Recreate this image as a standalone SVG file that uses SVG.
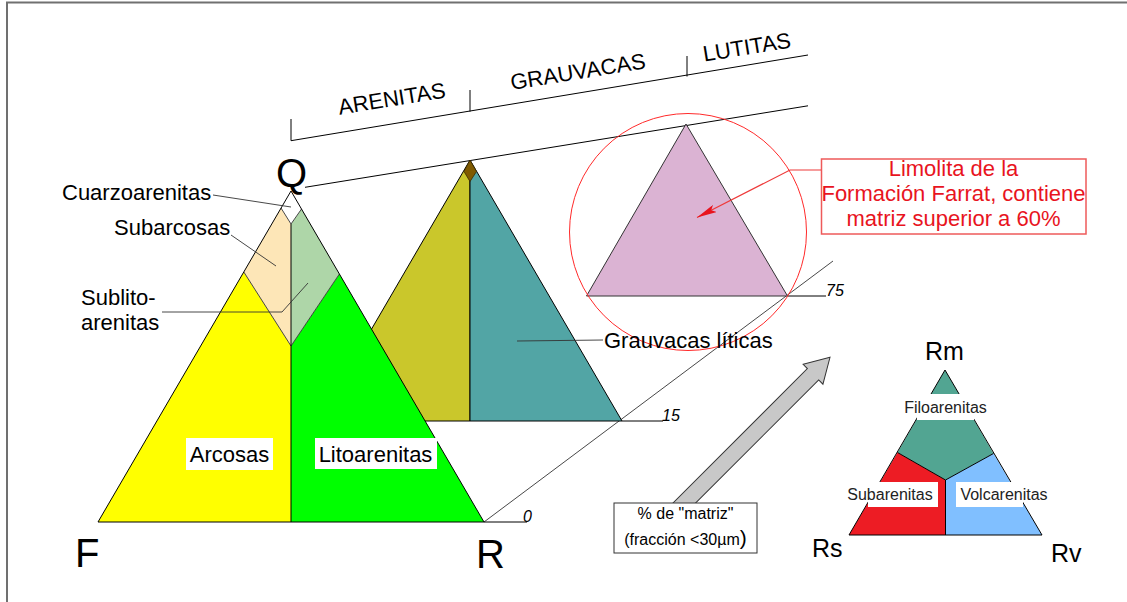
<svg xmlns="http://www.w3.org/2000/svg" width="1127" height="602" viewBox="0 0 1127 602">
<style>
  text { font-family: "Liberation Sans", Arial, sans-serif; fill: #000; }
  .big { font-size: 40px; }
  .lab { font-size: 22px; }
  .sm { font-size: 16px; fill: #222; }
  .num { font-size: 16px; font-style: italic; }
  .red { font-size: 22px; fill: #E8141E; text-anchor: middle; }
  .ln { stroke: #000; stroke-width: 1; fill: none; }
  .thin { stroke: #333; stroke-width: 0.9; fill: none; }
  .edge { stroke: #000; stroke-width: 1; stroke-linejoin: round; }
  .mid { text-anchor: middle; }
  .wbox { fill: #fff; stroke: none; }
</style>
<defs>
  <marker id="redArrow" viewBox="0 0 20 8" refX="20" refY="4" markerWidth="20" markerHeight="8" markerUnits="userSpaceOnUse" orient="auto">
    <path d="M0,0 L20,4 L0,8 L4,4 Z" fill="#E8141E"/>
  </marker>
</defs>
<rect width="1127" height="602" fill="#fff"/>
<path d="M7,602 L7,2.5 L1127,2.5" fill="none" stroke="#707070" stroke-width="2"/>

<g id="connectors">
  <!-- upper bracket line -->
  <path class="ln" d="M291,119 L291,140.7 L808,55"/>
  <line class="ln" x1="470" y1="111.6" x2="470" y2="90"/>
  <line class="ln" x1="687" y1="76.5" x2="687" y2="56"/>
  <!-- lower slanted line -->
  <line class="ln" x1="305" y1="187.3" x2="808" y2="105.8"/>
  <!-- diagonal through base corners -->
  <line class="thin" x1="484" y1="522" x2="833" y2="261"/>
  <!-- base extensions -->
  <line class="ln" x1="484" y1="522" x2="527" y2="522"/>
  <line class="ln" x1="622" y1="421" x2="663" y2="421"/>
  <line class="ln" x1="787.5" y1="296" x2="826" y2="296"/>
</g>

<g id="node-grauvacas">
  <polygon points="470,160 318,421 470,421" fill="#CAC72B" class="edge"/>
  <polygon points="470,160 622,421 470,421" fill="#52A5A5" class="edge"/>
  <polygon points="470,160 464,171.5 470,181.5 476.5,171.5" fill="#7F5A00" stroke="#3a2a00" stroke-width="0.8"/>
</g>

<g id="node-main">
  <polygon points="243.8,272 98,522 291,522 291,346" fill="#FFFF00"/>
  <polygon points="339.4,274 484,522 291,522 291,346" fill="#00FF00"/>
  <polygon points="281,208 243.8,272 291,346 291,224" fill="#FDE6B7"/>
  <polygon points="301.5,209 339.4,274 291,346 291,224" fill="#AED6A8"/>
  <polygon points="291,191 281,208 291,224 301.5,209" fill="#fff"/>
  <path class="thin" d="M281,208 L291,224 L301.5,209 M243.8,272 L291,346 L339.4,274"/>
  <line class="ln" x1="291" y1="224" x2="291" y2="522"/>
  <polygon points="291,191 98,522 484,522" fill="none" class="edge"/>
  <rect class="wbox" x="186" y="438" width="87" height="32"/>
  <rect class="wbox" x="315" y="438" width="122" height="31"/>
  <text class="lab mid" x="229.5" y="462">Arcosas</text>
  <text class="lab mid" x="375.5" y="462">Litoarenitas</text>
</g>

<g id="node-purple">
  <polygon points="686,124 586.5,296 787.5,296" fill="#DBB3D3" stroke="#333" stroke-width="1"/>
  <circle cx="688" cy="232" r="118.5" fill="none" stroke="#FF2A2A" stroke-width="1"/>
</g>

<g id="labels-left">
  <text class="lab" x="62" y="200">Cuarzoarenitas</text>
  <text class="lab" x="114" y="235">Subarcosas</text>
  <text class="lab" x="81" y="305">Sublito-</text>
  <text class="lab" x="81" y="330">arenitas</text>
  <path class="thin" d="M213,195 L291,207"/>
  <path class="thin" d="M231,235 L276,266"/>
  <path class="thin" d="M162,312 L282,312 L308,283"/>
  <path class="thin" d="M517,341 L603,340"/>
  <text class="lab" x="604" y="348">Grauvacas líticas</text>
</g>

<g id="labels-top">
  <text class="lab mid" transform="translate(393,106) rotate(-9.2)">ARENITAS</text>
  <text class="lab mid" transform="translate(579,79) rotate(-9.2)">GRAUVACAS</text>
  <text class="lab mid" transform="translate(748,54.5) rotate(-9.2)">LUTITAS</text>
</g>

<g id="vertex-labels">
  <text class="big" x="276" y="187">Q</text>
  <text class="big" x="75" y="567">F</text>
  <text class="big" x="476" y="568">R</text>
  <text class="num" x="523" y="522">0</text>
  <text class="num" x="662" y="421">15</text>
  <text class="num" x="826" y="296">75</text>
</g>

<g id="node-callout">
  <rect x="821.5" y="159" width="264.5" height="75" fill="#fff" stroke="#EE5A5A" stroke-width="1.5"/>
  <text class="red" x="953.5" y="176">Limolita de la</text>
  <text class="red" x="953.5" y="201">Formación Farrat, contiene</text>
  <text class="red" x="953.5" y="226">matriz superior a 60%</text>
  <path d="M821,170 L790,170 L697,217.5" fill="none" stroke="#EE3A3A" stroke-width="1.2" marker-end="url(#redArrow)"/>
</g>

<g id="node-matriz">
  <polygon transform="translate(830,357.3) rotate(-45)" points="0,0 -24,-14 -24,-8 -215,-8 -215,8 -24,8 -24,14" fill="#C8C8C8" stroke="#333" stroke-width="1"/>
  <rect x="614" y="503" width="143" height="50" fill="#fff" stroke="#333" stroke-width="1"/>
  <text class="mid" x="685.5" y="519" font-size="16">% de "matriz"</text>
  <text class="mid" x="685.5" y="545" font-size="16">(fracción &lt;30µm<tspan font-size="21">)</tspan></text>
</g>

<g id="node-small">
  <polygon points="945,370 897.5,452.5 945.5,480 993.5,453.5" fill="#52A592"/>
  <polygon points="897.5,452.5 849,535 945.5,535 945.5,480" fill="#ED1C24"/>
  <polygon points="993.5,453.5 1042,535 945.5,535 945.5,480" fill="#80BFFF"/>
  <path class="ln" d="M897.5,452.5 L945.5,480 L993.5,453.5 M945.5,480 L945.5,535"/>
  <polygon points="945,370 849,535 1042,535" fill="none" class="edge"/>
  <rect class="wbox" x="917" y="394" width="57" height="26"/>
  <rect class="wbox" x="868" y="482" width="70" height="25"/>
  <rect class="wbox" x="956" y="482" width="67" height="25"/>
  <text class="sm mid" x="945.5" y="413">Filoarenitas</text>
  <text class="sm mid" x="890" y="500">Subarenitas</text>
  <text class="sm mid" x="1004" y="500">Volcarenitas</text>
  <text class="big" x="925" y="360" font-size="25" style="font-size:25px">Rm</text>
  <text class="big" x="812" y="557" style="font-size:25px">Rs</text>
  <text class="big" x="1051" y="562" style="font-size:25px">Rv</text>
</g>
</svg>
